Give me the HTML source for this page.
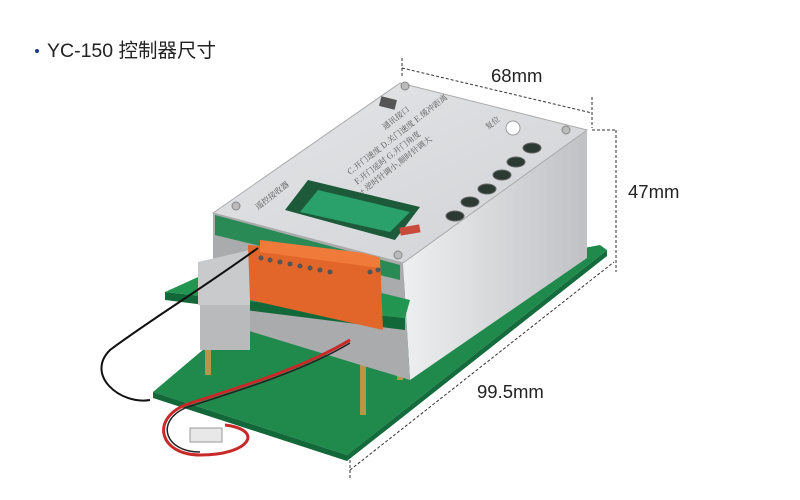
<!DOCTYPE html>
<html><head><meta charset="utf-8"><style>
html,body{margin:0;padding:0;background:#fff;width:800px;height:500px;overflow:hidden}
svg{display:block}
</style></head><body>
<svg width="800" height="500" viewBox="0 0 800 500" xmlns="http://www.w3.org/2000/svg">
<defs>
<linearGradient id="top" x1="0" y1="0" x2="1" y2="1"><stop offset="0" stop-color="#e4e5e7"/><stop offset="1" stop-color="#d0d2d5"/></linearGradient>
<linearGradient id="side" x1="0" y1="0" x2="1" y2="0"><stop offset="0" stop-color="#eeeff0"/><stop offset="1" stop-color="#bfc1c4"/></linearGradient>
</defs>
<circle cx="37" cy="51" r="2" fill="#1a3a8a"/>
<text x="47" y="57" font-family="Liberation Sans,'Noto Sans CJK SC',sans-serif" font-size="19.5" fill="#222">YC-150 控制器尺寸</text>

<!-- dimension lines -->
<g stroke="#333" stroke-width="1" stroke-dasharray="3,2" fill="none">
<line x1="402" y1="58" x2="402" y2="78"/>
<line x1="402" y1="68" x2="592" y2="113"/>
<line x1="592" y1="97" x2="592" y2="128"/>
<line x1="592" y1="130" x2="616" y2="130"/>
<line x1="616" y1="130" x2="616" y2="272"/>
<line x1="350" y1="470" x2="614" y2="262"/>
<line x1="350" y1="455" x2="350" y2="480"/>
</g>
<g font-family="Liberation Sans,sans-serif" font-size="18.5" fill="#222">
<text x="491" y="82">68mm</text>
<text x="628" y="198">47mm</text>
<text x="477" y="398">99.5mm</text>
</g>

<!-- bottom PCB -->
<polygon points="153,392 347,455 607,250 600,245 250,310" fill="#1f8a4c"/>
<polygon points="153,392 347,455 347,461 153,398" fill="#13683a"/>
<polygon points="347,455 607,250 607,256 347,461" fill="#146b3b"/>
<!-- posts -->
<g fill="#b8954a"><rect x="205" y="300" width="6" height="75"/><rect x="360" y="325" width="6" height="90"/><rect x="397" y="290" width="6" height="90"/><rect x="565" y="245" width="5" height="25"/></g>
<!-- right side face -->
<polygon points="403,263 587,130 587,258 410,380" fill="url(#side)"/>
<!-- front inner -->
<polygon points="213,213 403,263 410,380 213,320" fill="#a9abad"/>
<polygon points="215,215 400,265 400,280 215,235" fill="#2a8a55"/>
<!-- middle board -->
<polygon points="165,292 405,318 405,330 165,300" fill="#13683a"/>
<polygon points="165,292 240,258 410,300 405,318" fill="#229550"/>
<!-- grey connector -->
<polygon points="198,262 250,250 250,320 198,305" fill="#c9cacc"/>
<rect x="200" y="305" width="50" height="45" fill="#b9babc"/>
<!-- orange terminals -->
<polygon points="248,245 380,255 383,330 250,300" fill="#e2662a"/>
<polygon points="260,240 380,255 380,268 260,252" fill="#f07a3a"/>
<g fill="#555"><circle cx="261" cy="258" r="2.5"/><circle cx="270" cy="260" r="2.5"/><circle cx="280" cy="262" r="2.5"/><circle cx="290" cy="264" r="2.5"/><circle cx="300" cy="266" r="2.5"/><circle cx="310" cy="268" r="2.5"/><circle cx="320" cy="270" r="2.5"/><circle cx="330" cy="272" r="2.5"/><circle cx="370" cy="272" r="2.5"/><circle cx="378" cy="270" r="2.5"/></g>
<!-- top face -->
<polygon points="400,83 587,130 403,263 213,213" fill="url(#top)" stroke="#aaa" stroke-width="1"/>
<polygon points="308,180 420,207 395,240 285,210" fill="#1c5a3a"/>
<polygon points="318,190 410,212 390,232 300,212" fill="#2aa06a"/>
<rect x="380" y="98" width="16" height="10" fill="#555" transform="rotate(14 388 103)"/>
<g fill="#2b3a32" stroke="#666"><ellipse cx="455" cy="216" rx="9" ry="5"/><ellipse cx="470" cy="202" rx="9" ry="5"/><ellipse cx="487" cy="189" rx="9" ry="5"/><ellipse cx="502" cy="175" rx="9" ry="5"/><ellipse cx="516" cy="162" rx="9" ry="5"/><ellipse cx="532" cy="148" rx="9" ry="5"/></g>
<circle cx="513" cy="128" r="7" fill="#fff" stroke="#999"/>
<g fill="#bbb" stroke="#888"><circle cx="405" cy="86" r="4"/><circle cx="566" cy="130" r="4"/><circle cx="236" cy="206" r="4"/><circle cx="398" cy="255" r="4"/></g>
<rect x="400" y="226" width="20" height="8" fill="#c84a3a" transform="rotate(-10 410 230)"/>
<g font-family="'Noto Serif CJK SC',serif" font-size="8" fill="#555">
<text x="385" y="130" transform="rotate(-38 385 130)">通讯接口</text>
<text x="350" y="175" transform="rotate(-38 350 175)">C.开门速度 D.关门速度 E.缓冲距离</text>
<text x="357" y="185" transform="rotate(-38 357 185)">F.开门延时 G.开门角度</text>
<text x="362" y="195" transform="rotate(-38 362 195)">+ 逆时针调小,顺时针调大</text>
<text x="258" y="210" transform="rotate(-38 258 210)">遥控接收器</text>
<text x="488" y="130" transform="rotate(-38 488 130)">复位</text>
</g>
<!-- cables -->
<path d="M258,248 C200,290 150,320 110,350 C85,375 120,405 150,400" stroke="#111" stroke-width="2" fill="none"/>
<path d="M350,340 C300,370 230,390 185,405 C150,420 160,455 200,455 C250,455 265,430 225,425" stroke="#c82a2a" stroke-width="3" fill="none"/>
<path d="M350,343 C300,373 230,393 185,408 C155,422 165,452 200,452" stroke="#222" stroke-width="1.5" fill="none"/>
<rect x="190" y="428" width="32" height="14" fill="#e8e8e8" stroke="#999"/>
</svg>
</body></html>
